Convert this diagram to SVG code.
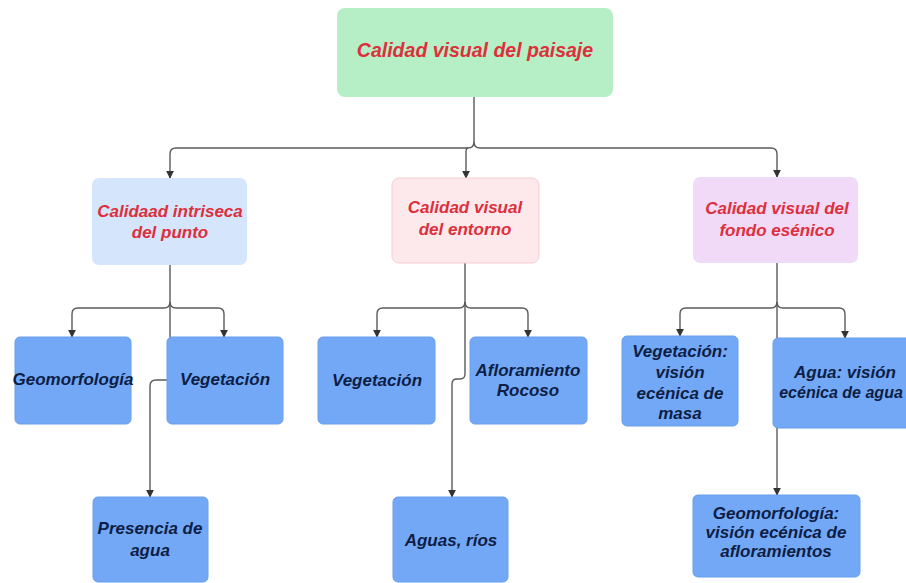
<svg xmlns="http://www.w3.org/2000/svg" width="906" height="583" viewBox="0 0 906 583">
<defs>
<marker id="arr" viewBox="0 0 10 10" refX="9" refY="5" markerWidth="8" markerHeight="8" markerUnits="userSpaceOnUse" orient="auto">
<path d="M0,0 L10,5 L0,10 z" fill="#333"/>
</marker>
<style>
.conn{fill:none;stroke:#5a5a5a;stroke-width:1.4}
.blue{fill:#73a8f7;stroke:#6b9ee8;stroke-width:1}
.t{font-family:"Liberation Sans",Arial,sans-serif;font-weight:bold;font-style:italic;text-anchor:middle}
.red{fill:#dd2f3c;font-size:17px}
.dark{fill:#0d1e45;font-size:17px}
</style>
</defs>
<rect width="906" height="583" fill="#ffffff"/>
<g id="connectors">
<path class="conn" d="M474,97 V142 Q474,148 468,148 H176 Q170,148 170,154 V178" marker-end="url(#arr)"/>
<path class="conn" d="M474,142 Q474,148 480,148 H771 Q777,148 777,154 V177" marker-end="url(#arr)"/>
<path class="conn" d="M468,148 Q466,148 466,152 V178" marker-end="url(#arr)"/>
<path class="conn" d="M170,265 V302 Q170,308 164,308 H78 Q72,308 72,314 V337" marker-end="url(#arr)"/>
<path class="conn" d="M170,302 Q170,308 176,308 H218 Q224,308 224,314 V337" marker-end="url(#arr)"/>
<path class="conn" d="M170,302 V380 H156 Q150,380 150,386 V497" marker-end="url(#arr)"/>
<path class="conn" d="M465,263 V302 Q465,308 459,308 H383 Q377,308 377,314 V337" marker-end="url(#arr)"/>
<path class="conn" d="M465,302 Q465,308 471,308 H522 Q528,308 528,314 V337" marker-end="url(#arr)"/>
<path class="conn" d="M465,302 V374 Q465,379 460,379 H457 Q452,379 452,384 V497" marker-end="url(#arr)"/>
<path class="conn" d="M777,263 V302 Q777,308 771,308 H686 Q680,308 680,314 V336" marker-end="url(#arr)"/>
<path class="conn" d="M777,302 Q777,308 783,308 H839 Q845,308 845,314 V338" marker-end="url(#arr)"/>
<path class="conn" d="M777,302 V495" marker-end="url(#arr)"/>
</g>
<g id="root">
<rect x="337" y="8" width="276" height="89" rx="8" fill="#b6efc5"/>
<text class="t red" x="475" y="57" style="font-size:19.5px">Calidad visual del paisaje</text>
</g>
<g id="n-intrinseca">
<rect x="92" y="178" width="155" height="87" rx="7" fill="#d5e5fb"/>
<text class="t red" x="170" y="217">Calidaad intriseca</text>
<text class="t red" x="170" y="238">del punto</text>
</g>
<g id="n-entorno">
<rect x="392" y="178" width="147" height="85" rx="7" fill="#fde9eb" stroke="#f6cdd2" stroke-width="1"/>
<text class="t red" x="465" y="213">Calidad visual</text>
<text class="t red" x="465" y="235">del entorno</text>
</g>
<g id="n-fondo">
<rect x="693" y="177" width="165" height="86" rx="7" fill="#f1d9f8"/>
<text class="t red" x="777" y="214">Calidad visual del</text>
<text class="t red" x="777" y="236">fondo esénico</text>
</g>
<g id="n-geomorfologia1">
<rect class="blue" x="15" y="337" width="116" height="87" rx="5"/>
<text class="t dark" x="73" y="385">Geomorfología</text>
</g>
<g id="n-vegetacion1">
<rect class="blue" x="167" y="337" width="116" height="87" rx="5"/>
<text class="t dark" x="225" y="385">Vegetación</text>
</g>
<g id="n-presencia">
<rect class="blue" x="93" y="497" width="115" height="85" rx="5"/>
<text class="t dark" x="150" y="534">Presencia de</text>
<text class="t dark" x="150" y="556">agua</text>
</g>
<g id="n-vegetacion2">
<rect class="blue" x="318" y="337" width="117" height="87" rx="5"/>
<text class="t dark" x="377" y="386">Vegetación</text>
</g>
<g id="n-afloramiento">
<rect class="blue" x="470" y="337" width="117" height="87" rx="5"/>
<text class="t dark" x="528" y="376">Afloramiento</text>
<text class="t dark" x="528" y="396">Rocoso</text>
</g>
<g id="n-aguas">
<rect class="blue" x="393" y="497" width="115" height="85" rx="5"/>
<text class="t dark" x="451" y="546">Aguas, ríos</text>
</g>
<g id="n-vegetacion3">
<rect class="blue" x="622" y="336" width="116" height="90" rx="5"/>
<text class="t dark" x="680" y="357">Vegetación:</text>
<text class="t dark" x="680" y="378">visión</text>
<text class="t dark" x="680" y="399">ecénica de</text>
<text class="t dark" x="680" y="419">masa</text>
</g>
<g id="n-agua">
<rect class="blue" x="773" y="338" width="144" height="90" rx="5"/>
<text class="t dark" x="845" y="378">Agua: visión</text>
<text class="t dark" x="841" y="398" style="font-size:16px">ecénica de agua</text>
</g>
<g id="n-geomorfologia3">
<rect class="blue" x="693" y="495" width="167" height="82" rx="5"/>
<text class="t dark" x="776" y="519">Geomorfología:</text>
<text class="t dark" x="776" y="538">visión ecénica de</text>
<text class="t dark" x="776" y="557">afloramientos</text>
</g>
</svg>
